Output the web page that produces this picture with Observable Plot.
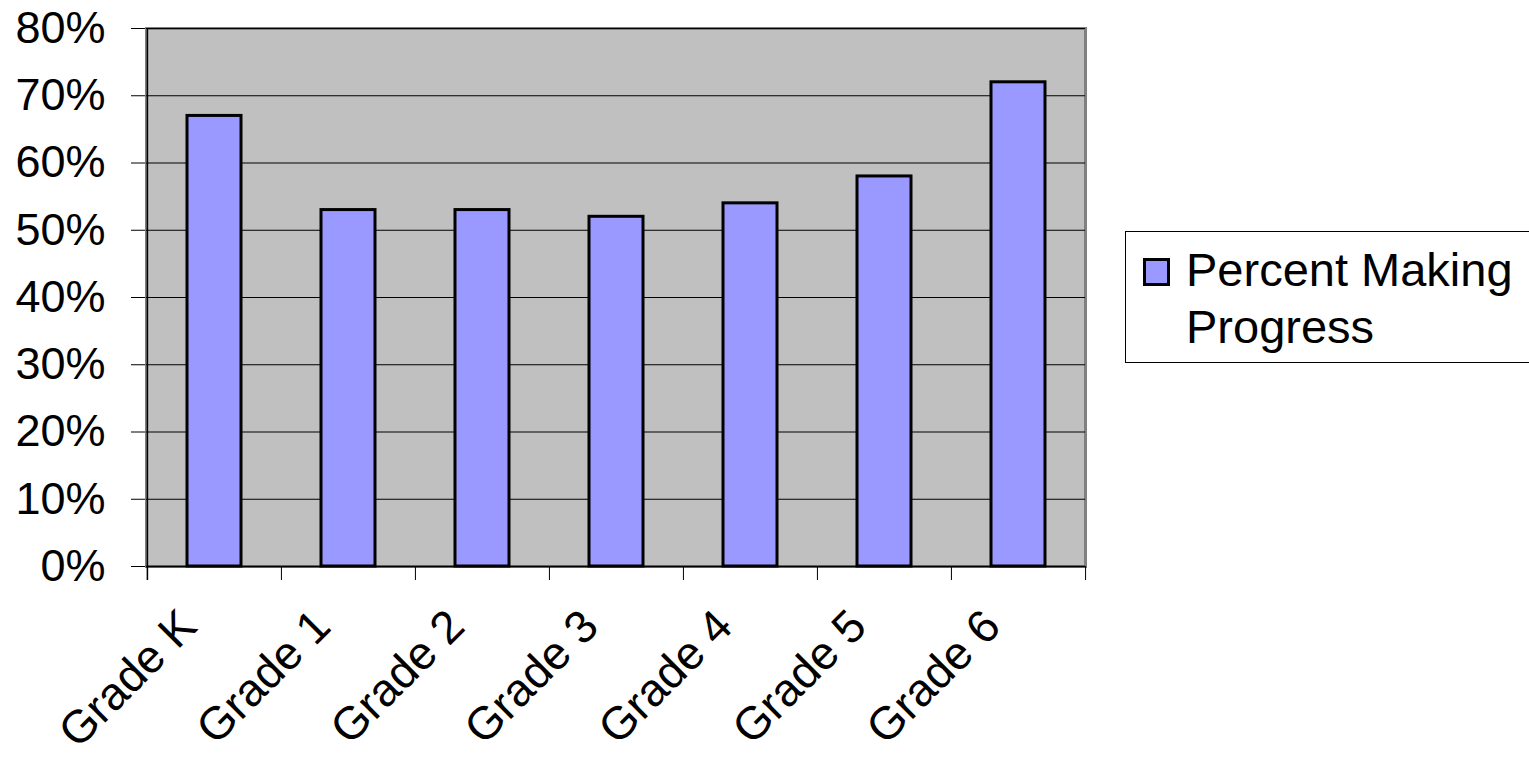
<!DOCTYPE html>
<html>
<head>
<meta charset="utf-8">
<script src="https://cdn.jsdelivr.net/npm/d3@7"></script>
<script src="https://cdn.jsdelivr.net/npm/@observablehq/plot@0.6"></script>
<style>
  body { margin: 0; background: #fff; font-family: "Liberation Sans", Arial, sans-serif; }
  #wrap { position: relative; width: 1529px; height: 757px; overflow: hidden; }
  #wrap svg { position: absolute; left: 0; top: 0; }
  #legend { position: absolute; left: 1125px; top: 231px; width: 430px; height: 132px;
            border: 1px solid #000; box-sizing: border-box; background: #fff; }
  #legend .swatch { position: absolute; left: 17px; top: 26px; width: 27px; height: 28px;
                    box-sizing: border-box; border: 3px solid #000; background: #9999FF; }
  #legend .label { position: absolute; left: 60px; top: 9px; font-size: 47px; line-height: 57px; color: #000; white-space: nowrap; }
</style>
</head>
<body>
<div id="wrap">
  <div id="legend"><div class="swatch"></div><div class="label">Percent Making<br>Progress</div></div>
</div>
<script>
// Share of students making progress, by grade
const grades = ["Grade K", "Grade 1", "Grade 2", "Grade 3", "Grade 4", "Grade 5", "Grade 6"];
const percentMaking = [0.67, 0.53, 0.53, 0.52, 0.54, 0.58, 0.72];
const yTicks = [0, 0.1, 0.2, 0.3, 0.4, 0.5, 0.6, 0.7, 0.8];
const seriesName = "Percent Making Progress";

const rows = grades.map((grade, i) => ({grade, value: percentMaking[i]}));

const W = 1529, H = 757;
const mL = 146, mR = 444, mT = 28, mB = 191;
const step = (W - mL - mR) / grades.length;   // width of one category slot

const chart = Plot.plot({
  width: W,
  height: H,
  marginLeft: mL,
  marginRight: mR,
  marginTop: mT,
  marginBottom: mB,
  style: {fontFamily: '"Liberation Sans", Arial, sans-serif', fontSize: "45px", color: "#000", background: "transparent", overflow: "visible"},
  x: {domain: grades, paddingInner: 0.6, paddingOuter: 0.3, axis: null},
  y: {domain: [0, 0.8], ticks: yTicks.length - 1, tickFormat: d3.format(".0%"), tickSize: 15, tickPadding: 26, label: null, line: false},
  marks: [
    // grey plot area with its darker border
    Plot.frame({fill: "#C0C0C0", stroke: "#808080", strokeWidth: 3}),
    // horizontal gridlines
    Plot.ruleY(yTicks, {stroke: "#000", strokeWidth: 1}),
    // bars
    Plot.barY(rows, {x: "grade", y: "value", fill: "#9999FF", stroke: "#000", strokeWidth: 3, title: d => `${d.grade}: ${seriesName}`}),
    // category axis baseline
    Plot.ruleY([0], {stroke: "#000", strokeWidth: 1.5}),
    // value axis line (left edge of the first category slot)
    Plot.ruleX([grades[0]], {x: d => d, dx: -step / 2, stroke: "#000", strokeWidth: 1.5, insetBottom: -14}),
    // tick marks between categories, plus the closing one on the right
    Plot.ruleX(grades, {x: d => d, y1: 0, y2: 0, dx: -step / 2, insetBottom: -14, stroke: "#000", strokeWidth: 1}),
    Plot.ruleX([grades[grades.length - 1]], {x: d => d, y1: 0, y2: 0, dx: step / 2, insetBottom: -14, stroke: "#000", strokeWidth: 1}),
    // slanted category labels
    Plot.text(grades, {x: d => d, frameAnchor: "bottom", rotate: -45, textAnchor: "end", lineAnchor: "middle", dx: -26, dy: 52, fontSize: 46, fill: "#000"})
  ]
});

document.getElementById("wrap").prepend(chart);
</script>
</body>
</html>
